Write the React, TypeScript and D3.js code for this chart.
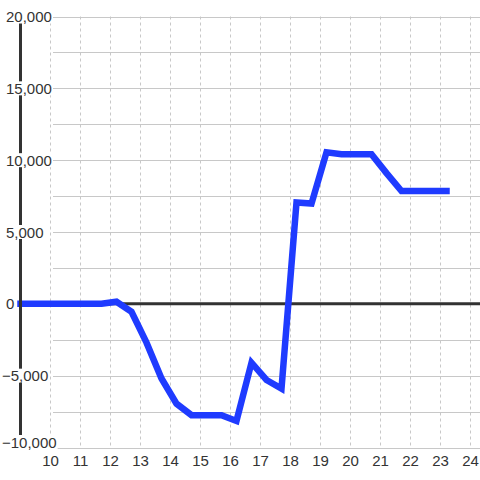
import React, { useEffect, useRef } from "react";
import * as d3 from "d3";

const xValues = [9.0, 11.7, 12.2, 12.7, 13.2, 13.7, 14.2, 14.7, 15.2, 15.7, 16.2, 16.7, 17.2, 17.7, 18.2, 18.7, 19.2, 19.7, 20.2, 20.7, 21.2, 21.7, 22.2, 22.7, 23.2];
const yValues = [0, 0, 150, -550, -2700, -5200, -6950, -7750, -7750, -7750, -8150, -4100, -5300, -5900, 7050, 6980, 10550, 10420, 10420, 10420, 9100, 7850, 7850, 7850, 7850];
const xTicks = [10, 11, 12, 13, 14, 15, 16, 17, 18, 19, 20, 21, 22, 23, 24];
const yLabelTicks = [20000, 15000, 10000, 5000, 0, -5000, -10000];
const yGridTicks = [20000, 17500, 15000, 12500, 10000, 7500, 5000, 2500, 0, -2500, -5000, -7500, -10000];

export default function App() {
  const ref = useRef<SVGSVGElement | null>(null);

  useEffect(() => {
    const svg = d3.select(ref.current);
    svg.selectAll("*").remove();
    const W = 480, H = 480;
    const x = d3.scaleLinear().domain([9, 24]).range([20.5, 470.5]);
    const y = d3.scaleLinear().domain([-10000, 20000]).range([447.5, 16.5]);
    const gridLeft = 53;
    const font = "'Liberation Sans', Arial, sans-serif";

    svg.append("rect").attr("width", W).attr("height", H).attr("fill", "#fff");

    // horizontal grid
    svg.append("g").selectAll("line").data(yGridTicks).join("line")
      .attr("x1", gridLeft).attr("x2", W)
      .attr("y1", (d) => Math.round(y(d)) + 0.5).attr("y2", (d) => Math.round(y(d)) + 0.5)
      .attr("stroke", "#c8c8c8").attr("stroke-width", 1);

    // vertical dashed grid
    svg.append("g").selectAll("line").data(xTicks).join("line")
      .attr("x1", (d) => x(d)).attr("x2", (d) => x(d))
      .attr("y1", y(20000)).attr("y2", y(-10000))
      .attr("stroke", "#c8c8c8").attr("stroke-width", 1)
      .attr("stroke-dasharray", "3,3");

    // zero line
    svg.append("line")
      .attr("x1", x(9)).attr("x2", W)
      .attr("y1", y(0)).attr("y2", y(0))
      .attr("stroke", "#333").attr("stroke-width", 3);

    // data line
    const pts: [number, number][] = xValues.map((v, i) => [v, yValues[i]]);
    const line = d3.line<[number, number]>().x((d) => x(d[0])).y((d) => y(d[1]));
    svg.append("path").datum(pts)
      .attr("d", line)
      .attr("fill", "none")
      .attr("stroke", "#1f3bff")
      .attr("stroke-width", 6.5)
      .attr("stroke-linecap", "square")
      .attr("stroke-linejoin", "miter");

    // y axis line
    svg.append("line")
      .attr("x1", x(9)).attr("x2", x(9))
      .attr("y1", y(20000)).attr("y2", y(-10000))
      .attr("stroke", "#333").attr("stroke-width", 3);

    // y labels with white background
    const fmt = d3.format(",");
    const gy = svg.append("g");
    yLabelTicks.forEach((v) => {
      const cy = Math.min(y(v), y(-10000) - 5.5);
      const t = gy.append("text")
        .attr("x", v < 0 ? 2 : 6)
        .attr("y", cy + 5.5)
        .attr("font-family", font)
        .attr("font-size", 15)
        .attr("fill", "#333")
        .text(fmt(v));
      const bb = (t.node() as SVGTextElement).getBBox();
      gy.insert("rect", "text")
        .attr("x", bb.x - 1).attr("y", cy - 7)
        .attr("width", bb.width + 2).attr("height", 14)
        .attr("fill", "#fff");
    });

    // x labels
    svg.append("g").selectAll("text").data(xTicks).join("text")
      .attr("x", (d) => x(d))
      .attr("y", 465.5)
      .attr("text-anchor", "middle")
      .attr("font-family", font)
      .attr("font-size", 15)
      .attr("fill", "#333")
      .text((d) => String(d));
  }, []);

  return (
    <svg
      ref={ref}
      width={480}
      height={480}
      style={{ position: "absolute", left: 0, top: 0, display: "block" }}
    />
  );
}
